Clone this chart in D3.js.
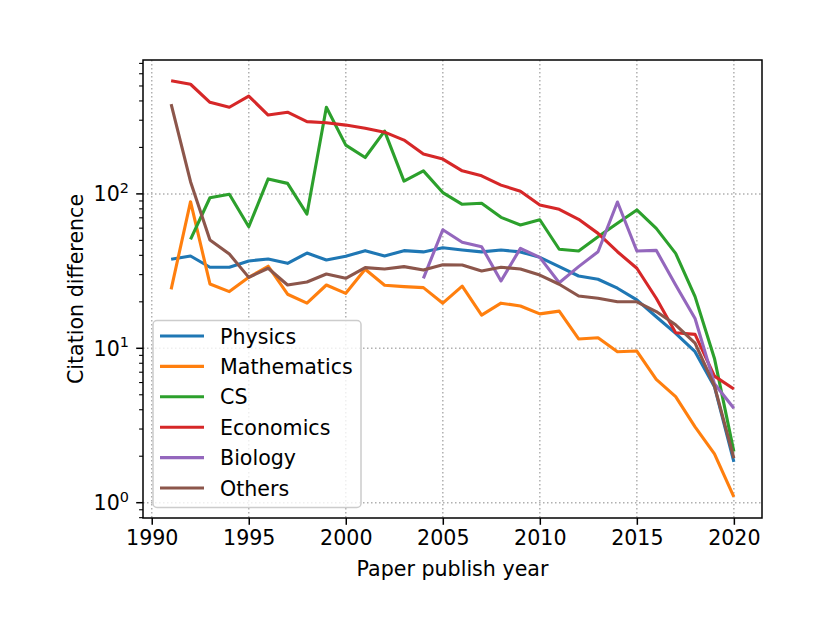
<!DOCTYPE html>
<html>
<head>
<meta charset="utf-8">
<script src="https://cdn.jsdelivr.net/npm/d3@7"></script>
<style>
  body { margin: 0; background: #fff; }
  text { font-family: "DejaVu Sans", sans-serif; fill: #000; }
</style>
</head>
<body>
<div id="chart"></div>
<script>
// years on x axis
var years = d3.range(1991, 2021);

var physics = [37.7, 39.6, 33.5, 33.5, 36.8, 37.9, 35.5, 41.4, 37.3, 39.4,
               42.9, 39.6, 42.9, 42.1, 44.8, 43.3, 42.1, 43.3, 42.1, 38.8,
               33.8, 29.4, 28.0, 24.5, 20.6, 16.0, 12.5, 9.5, 5.64, 1.84];
var mathematics = [24.1, 89, 26.1, 23.3, 28.8, 34.0, 22.4, 19.6, 25.7, 22.7,
                   32.5, 25.6, 25.1, 24.7, 19.6, 25.3, 16.4, 19.6, 18.8, 16.7,
                   17.4, 11.5, 11.7, 9.5, 9.6, 6.3, 4.86, 3.1, 2.07, 1.09];
var cs = [null, 50.8, 94.4, 99.4, 61.3, 125, 117, 74, 364, 207,
          172, 255, 121, 141, 102, 85.6, 87, 70.5, 62.9, 68,
          43.8, 42.7, 52.8, 64.5, 78.7, 59.8, 41.2, 21.6, 8.6, 2.14];
var economics = [541, 513, 392, 364, 430, 324, 338, 294, 289, 279,
                 266, 251, 223, 181, 168, 141, 131, 114, 104, 84.7,
                 79.4, 68.4, 55.5, 42.2, 33, 21.1, 12.6, 12.3, 6.6, 5.45];
var biology = [null, null, null, null, null, null, null, null, null, null,
               null, null, null, 28.4, 58.6, 48.6, 45.5, 27.3, 44.4, 38.8,
               26.6, 33.8, 42.2, 88.6, 42.7, 43.1, 25.7, 15.6, 5.9, 4.09];
var others = [382, 120, 50.3, 40.8, 28.8, 33, 25.7, 26.9, 30.3, 28.4,
              33.3, 32.6, 33.8, 32.1, 34.8, 34.6, 31.7, 33.5, 32.6, 29.8,
              26, 21.8, 21.1, 20, 20, 17.3, 14.2, 10.8, 5.7, 1.94];

var seriesNames = ["Physics", "Mathematics", "CS", "Economics", "Biology", "Others"];
var seriesValues = [physics, mathematics, cs, economics, biology, others];
var colors = ["#1f77b4", "#ff7f0e", "#2ca02c", "#d62728", "#9467bd", "#8c564b"];

var xTicks = [1990, 1995, 2000, 2005, 2010, 2015, 2020];
var yTicks = [1, 10, 100];

function init() {
    var w = 830, h = 642;
    var left = 143, right = 762, top = 60, bottom = 518;
    var fs = 20.6;

    var svg = d3.select("#chart").append("svg")
                .attr("width", w).attr("height", h);

    var x = d3.scaleLinear().domain([1989.55, 2021.45]).range([left, right]);
    var y = d3.scaleLog().domain([0.796, 736.5]).range([bottom, top]);

    svg.append("clipPath").attr("id", "clip")
       .append("rect").attr("x", left).attr("y", top)
       .attr("width", right - left).attr("height", bottom - top);

    // grid
    var grid = svg.append("g");
    grid.selectAll(".gx").data(xTicks).enter().append("line")
        .attr("x1", d => x(d)).attr("x2", d => x(d))
        .attr("y1", top).attr("y2", bottom);
    grid.selectAll(".gy").data(yTicks).enter().append("line")
        .attr("x1", left).attr("x2", right)
        .attr("y1", d => y(d)).attr("y2", d => y(d));
    grid.selectAll("line")
        .attr("stroke", "#b0b0b0").attr("stroke-width", 1.5)
        .attr("stroke-dasharray", "1.5,2.5");

    // lines
    var line = d3.line()
                 .defined(d => d[1] != null)
                 .x(d => x(d[0]))
                 .y(d => y(d[1]));

    svg.append("g").attr("clip-path", "url(#clip)")
       .selectAll("path")
       .data(seriesValues)
       .enter()
       .append("path")
       .attr("d", function(vals) {
           return line(years.map((yr, i) => [yr, vals[i]]));
       })
       .attr("fill", "none")
       .attr("stroke", (d, i) => colors[i])
       .attr("stroke-width", 3.1)
       .attr("stroke-linejoin", "round")
       .attr("stroke-linecap", "butt");

    // axes
    var xAxis = d3.axisBottom(x).tickValues(xTicks).tickFormat(d3.format("d"))
                  .tickSize(6.8).tickPadding(6);
    var gx = svg.append("g").attr("transform", "translate(0," + bottom + ")").call(xAxis);
    gx.select(".domain").remove();
    gx.selectAll("line").attr("stroke", "#000").attr("stroke-width", 1.5);
    gx.selectAll("text").style("font-size", fs + "px")
      .style("font-family", "DejaVu Sans").attr("fill", "#000");

    var minor = [];
    [0.1, 1, 10, 100].forEach(function(b) {
        for (var k = 2; k <= 9; k++) {
            var v = b * k;
            if (v > y.domain()[0] && v < y.domain()[1]) minor.push(v);
        }
    });
    var gy = svg.append("g");
    gy.selectAll(".minor").data(minor).enter().append("line")
      .attr("x1", left - 3.9).attr("x2", left)
      .attr("y1", d => y(d)).attr("y2", d => y(d))
      .attr("stroke", "#000").attr("stroke-width", 1.1);
    gy.selectAll(".major").data(yTicks).enter().append("line")
      .attr("x1", left - 6.8).attr("x2", left)
      .attr("y1", d => y(d)).attr("y2", d => y(d))
      .attr("stroke", "#000").attr("stroke-width", 1.5);
    var lab = gy.selectAll(".lab").data(yTicks).enter().append("text")
      .attr("x", left - 14)
      .attr("y", d => y(d) + 7.5)
      .attr("text-anchor", "end")
      .style("font-size", fs + "px");
    lab.append("tspan").text("10");
    lab.append("tspan").attr("dy", -8.5).style("font-size", (fs * 0.7) + "px")
       .text(d => Math.round(Math.log10(d)));

    // spines
    svg.append("rect").attr("x", left).attr("y", top)
       .attr("width", right - left).attr("height", bottom - top)
       .attr("fill", "none").attr("stroke", "#000").attr("stroke-width", 1.5);

    // axis labels
    svg.append("text").attr("x", (left + right) / 2).attr("y", 576)
       .attr("text-anchor", "middle").style("font-size", fs + "px")
       .text("Paper publish year");
    svg.append("text")
       .attr("transform", "translate(83," + ((top + bottom) / 2) + ") rotate(-90)")
       .attr("text-anchor", "middle").style("font-size", fs + "px")
       .text("Citation difference");

    // legend
    var leg = svg.append("g");
    leg.append("rect").attr("x", 153).attr("y", 320.5)
       .attr("width", 208).attr("height", 187).attr("rx", 4)
       .attr("fill", "#fff").attr("fill-opacity", 0.8)
       .attr("stroke", "#cccccc").attr("stroke-width", 1.5);
    var items = leg.selectAll(".item").data(seriesNames).enter().append("g")
       .attr("transform", (d, i) => "translate(0," + (336 + i * 30.4) + ")");
    items.append("line").attr("x1", 160).attr("x2", 204)
         .attr("y1", 0).attr("y2", 0)
         .attr("stroke", (d, i) => colors[i]).attr("stroke-width", 3.1);
    items.append("text").attr("x", 220).attr("y", 7.5)
         .style("font-size", fs + "px").text(d => d);
}

window.onload = init;
</script>
</body>
</html>
